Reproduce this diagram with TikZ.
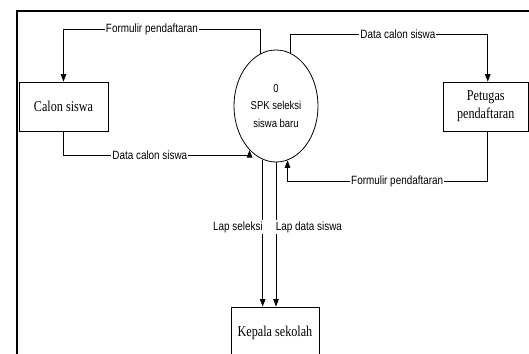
\documentclass[tikz,border=0pt]{standalone}
\usepackage{fontspec}
\newfontfamily\lblfont[FakeStretch=0.825]{Liberation Sans}
\newfontfamily\boxfont[FakeStretch=0.81]{Liberation Serif}
\usetikzlibrary{arrows.meta,shapes.geometric}
\begin{document}
\begin{tikzpicture}[x=1pt,y=-1pt,
  entity/.style={draw, line width=0.8pt, rectangle, minimum height=49pt, align=center,
    inner sep=0pt, font=\boxfont\fontsize{15}{18}\selectfont},
  process/.style={draw, ellipse, line width=0.8pt, minimum width=84pt, minimum height=112pt,
    inner sep=0pt, align=center, font=\lblfont\fontsize{11.5}{17.5}\selectfont},
  flow/.style={draw, line width=0.8pt, -{Triangle[length=7.5pt,width=5.5pt]}},
  flowlabel/.style={fill=white, inner sep=1pt, font=\lblfont\fontsize{12}{14}\selectfont},
]
\useasboundingbox (0,0) rectangle (529,353);
\clip (0,0) rectangle (529,353);

% outer frame
\draw[line width=2pt] (16.7,360) -- (16.7,11) -- (535,11);

% external entities and the process
\node[entity, minimum width=89pt] (calon) at (63.5,106.5) {Calon siswa};
\node[entity, minimum width=85.5pt] (pet) at (485.75,106.5) {Petugas\\pendaftaran};
\node[process] (sp) at (276,106) {0\\SPK seleksi\\siswa baru};
\node[entity, minimum width=88pt, minimum height=52pt] (kep) at (275,333) {Kepala sekolah};

% routing levels
\coordinate (yA) at (0,29);
\coordinate (yB) at (0,34);
\coordinate (yC) at (0,155);
\coordinate (yD) at (0,181);
\coordinate (pn) at ([xshift=2pt]pet.north);
\coordinate (ps) at ([xshift=2pt]pet.south);

% data flows
\draw[flow] (sp.107.2) -- (sp.107.2 |- yA)
  -- node[flowlabel, pos=0.55] {Formulir pendaftaran} (calon.north |- yA) -- (calon.north);
\draw[flow] (sp.75.15) -- (sp.75.15 |- yB)
  -- node[flowlabel, pos=0.545] {Data calon siswa} (pn |- yB) -- (pn);
\draw[flow] (calon.south) -- (calon.south |- yC)
  -- node[flowlabel, pos=0.464] {Data calon siswa} (sp.239.4 |- yC) -- (sp.239.4);
\draw[flow] (ps) -- (ps |- yD)
  -- node[flowlabel, pos=0.4525] {Formulir pendaftaran} (sp.282.6 |- yD) -- (sp.282.6);
\draw[flow] (sp.256.85)
  -- node[flowlabel, anchor=east, xshift=1.5pt, pos=0.459] {Lap seleksi} (sp.256.85 |- kep.north);
\draw[flow] (sp.270)
  -- node[flowlabel, anchor=west, xshift=-1.5pt, pos=0.448] {Lap data siswa} (sp.270 |- kep.north);
\end{tikzpicture}
\end{document}
